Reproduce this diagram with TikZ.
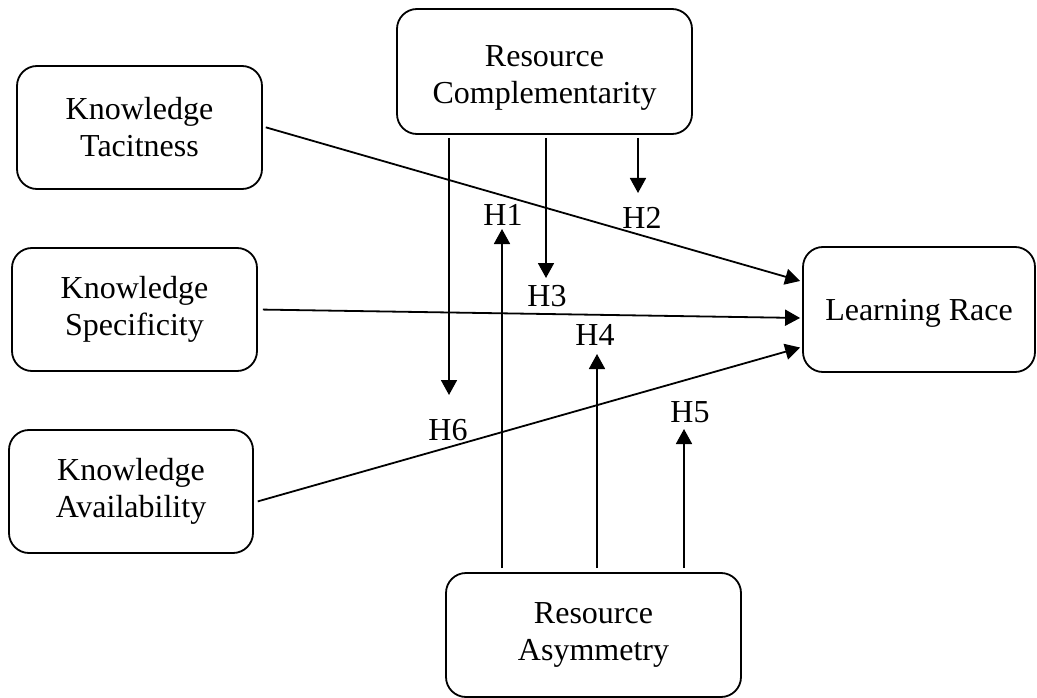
\documentclass[tikz,border=0pt]{standalone}
\usepackage{fontspec}
\setmainfont{Liberation Serif}
\usetikzlibrary{arrows.meta}

\tikzset{
  box/.style={draw, line width=1.8pt, rounded corners=20pt, align=center, inner sep=0pt},
  arr/.style={line width=1.8pt, -{Triangle[width=16pt,length=15pt]}},
  lab/.style={inner sep=0pt}
}

\begin{document}
\begin{tikzpicture}[x=1pt, y=-1pt, font=\fontsize{32}{37}\selectfont]
    \useasboundingbox (0,0) rectangle (1037,698);

    \node[box, minimum width=295pt, minimum height=125pt] (comp) at (544.5,71.5) {\rule{0pt}{33pt}Resource\\Complementarity};
    \node[box, minimum width=245pt, minimum height=123pt] (tac) at (139.5,127.5) {Knowledge\\Tacitness};
    \node[box, minimum width=245pt, minimum height=123pt] (spec) at (134.5,309.5) {Knowledge\\Specificity};
    \node[box, minimum width=244pt, minimum height=123pt] (avail) at (131,491.5) {Knowledge\\Availability};
    \node[box, minimum width=232pt, minimum height=125pt, text depth=0pt] (race) at (919,309.5) {Learning Race};
    \node[box, minimum width=295pt, minimum height=124pt] (asym) at (593.5,635) {Resource\\Asymmetry};

    % paths into the learning race
    \draw[arr, shorten <=3pt, shorten >=2pt] ([yshift=1pt]tac.east) -- ([yshift=28pt]race.west);
    \draw[arr, shorten <=5pt, shorten >=2pt] (spec.east) -- ([yshift=-8.5pt]race.west);
    \draw[arr, shorten <=4pt, shorten >=2pt] ([yshift=-11pt]avail.east) -- ([yshift=-37.5pt]race.west);

    % moderating arrows
    \coordinate (t6) at (449,395);
    \coordinate (t3) at (546,278);
    \coordinate (t2) at (638,193);
    \coordinate (t1) at (502,229);
    \coordinate (t4) at (597,354);
    \coordinate (t5) at (684,429);
    \foreach \t in {t6,t3,t2}
        \draw[arr, shorten <=3pt] (\t |- comp.south) -- (\t);
    \foreach \t in {t1,t4,t5}
        \draw[arr, shorten <=4pt] (\t |- asym.north) -- (\t);

    \foreach \n/\x/\y in {1/503/215, 2/642/218, 3/547/296, 4/595/335, 5/690/412, 6/448/430}
        \node[lab] (h\n) at (\x,\y) {H\n};
\end{tikzpicture}
\end{document}
